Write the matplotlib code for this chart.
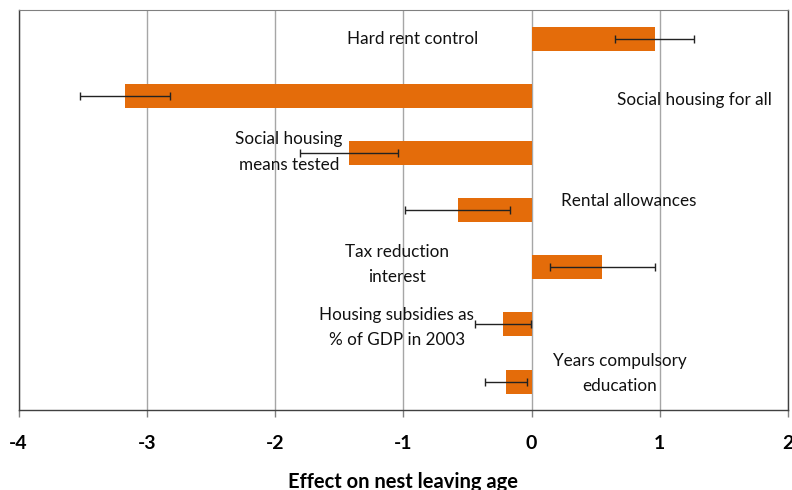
import matplotlib
matplotlib.use("Agg")
import matplotlib.pyplot as plt

# Policy effects on nest leaving age, with standard-error whiskers
labels = [
    "Hard rent control",
    "Social housing for all",
    "Social housing\nmeans tested",
    "Rental allowances",
    "Tax reduction\ninterest",
    "Housing subsidies as\n% of GDP in 2003",
    "Years compulsory\neducation",
]
effects = [0.96, -3.17, -1.425, -0.575, 0.553, -0.222, -0.20]
errors = [0.31, 0.35, 0.38, 0.41, 0.41, 0.22, 0.163]
xticks = [-4, -3, -2, -1, 0, 1, 2]

# where each category's annotation sits (x, y offset in category units)
label_pos = [
    (-0.93, 0.0),
    (1.27, 0.075),
    (-1.89, -0.015),
    (0.76, -0.16),
    (-1.05, -0.055),
    (-1.05, 0.057),
    (0.685, -0.145),
]

plt.rcParams["font.family"] = ["Lato", "DejaVu Sans"]

fig = plt.figure(figsize=(7.92, 4.90), dpi=100)
ax = fig.add_axes([0.0234, 0.163, 0.995 - 0.0234, 0.9796 - 0.163])

ypos = list(range(len(labels)))
ax.barh(ypos, effects, height=0.42, color="#E46C0A", zorder=2)
ax.errorbar(effects, ypos, xerr=errors, fmt="none", ecolor="#222222",
            elinewidth=1.0, capsize=3, capthick=1.0, zorder=3)

for i, (txt, (lx, dy)) in enumerate(zip(labels, label_pos)):
    ax.text(lx, i + dy, txt, ha="center", va="center", fontsize=12.3,
            color="#111111", linespacing=1.7, zorder=4)

ax.set_xlim(-4, 2)
ax.set_ylim(len(labels) - 0.5, -0.5)
ax.set_xticks(xticks)
ax.set_xticklabels([str(t) for t in xticks], fontsize=14, fontweight="bold")
ax.set_yticks([])
ax.xaxis.grid(True, color="#A6A6A6", linewidth=1.0, zorder=0)
ax.set_axisbelow(True)
ax.tick_params(axis="x", direction="out", length=5, width=1, color="#808080", pad=13)
for side in ["left", "right", "bottom"]:
    ax.spines[side].set_color("#404040")
    ax.spines[side].set_linewidth(1.0)
ax.spines["top"].set_color("#808080")
ax.set_xlabel("Effect on nest leaving age", fontsize=14.5, fontweight="bold", labelpad=14)

fig.savefig("out.png", dpi=100)
